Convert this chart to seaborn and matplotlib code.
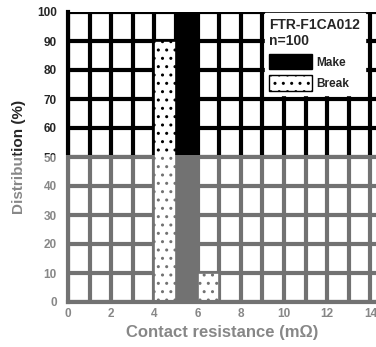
import numpy as np
import pandas as pd
import matplotlib
matplotlib.use("Agg")
import matplotlib.pyplot as plt
from matplotlib.patches import Patch, Rectangle
import seaborn as sns

# Contact resistance distribution (percent of samples per 2 mOhm bin)
bin_centers = [5, 7, 5, 7]
contact_state = ["Make", "Make", "Break", "Break"]
percent = [100, 0, 90, 10]
bin_edges = list(range(0, 16, 2))
x_tick_values = [0, 2, 4, 6, 8, 10, 12, 14]
y_tick_values = [0, 10, 20, 30, 40, 50, 60, 70, 80, 90, 100]
relay_model = "FTR-F1CA012"
sample_size = "n=100"

df = pd.DataFrame({"resistance": bin_centers, "state": contact_state, "percent": percent})

sns.set_theme(style="white")
plt.rcParams["font.family"] = ["Liberation Sans", "DejaVu Sans"]
plt.rcParams["font.weight"] = "bold"

fig = plt.figure(figsize=(3.76, 3.47), dpi=100)
ax = fig.add_axes([68 / 376, 45 / 347, 1 - 68 / 376, 290 / 347])

sns.histplot(data=df, x="resistance", weights="percent", hue="state",
             hue_order=["Break", "Make"], multiple="dodge", bins=bin_edges,
             shrink=1, palette={"Break": "white", "Make": "black"},
             edgecolor="black", linewidth=1.2, alpha=1, legend=False, ax=ax)

for p in ax.patches:
    fc = p.get_facecolor()
    if fc[0] > 0.5:
        p.set_hatch("..")

ax.set_xlim(0, (376 - 68) / 21.6)
ax.set_ylim(0, 100)
ax.set_xticks(x_tick_values)
ax.set_xticks(np.arange(1, 15, 2), minor=True)
ax.set_yticks(y_tick_values)
ax.grid(True, which="both", color="black", linewidth=3.0)
ax.set_axisbelow(True)
ax.tick_params(axis="both", which="both", length=0, labelsize=8.5)
ax.tick_params(axis="y", pad=8)
ax.tick_params(axis="x", pad=4)
for lab in ax.get_xticklabels() + ax.get_yticklabels():
    lab.set_fontweight("bold")
for side in ["top", "right"]:
    ax.spines[side].set_visible(False)
for side in ["left", "bottom"]:
    ax.spines[side].set_color("black")
    ax.spines[side].set_linewidth(3.0)

ax.set_xlabel("Contact resistance (m\u03a9)", fontsize=12, fontweight="bold", labelpad=4)
ax.set_ylabel("Distribution (%)", fontsize=11, fontweight="bold", labelpad=8)

handles = [Patch(facecolor="black", edgecolor="black"),
           Patch(facecolor="white", edgecolor="black", hatch="..")]
leg = ax.legend(handles, ["Make", "Break"], title=relay_model + "\n" + sample_size,
                loc="upper left", bbox_to_anchor=(9.1 / ((376 - 68) / 21.6), 0.995),
                frameon=True, fancybox=False, framealpha=1, edgecolor="white",
                facecolor="white", borderaxespad=0, handlelength=3.6,
                handleheight=1.6, fontsize=8.5, title_fontsize=10,
                alignment="left", borderpad=0.4, labelspacing=0.5,
                handletextpad=0.4)
for t in leg.get_texts():
    t.set_fontweight("bold")
leg.get_title().set_fontweight("bold")

# lower half of the sheet printed in grey
fig.add_artist(Rectangle((0, 0), 1, 1 - 155 / 347, transform=fig.transFigure,
                         facecolor="white", edgecolor="none", alpha=0.45, zorder=1000))

fig.savefig("out.png", dpi=100)
